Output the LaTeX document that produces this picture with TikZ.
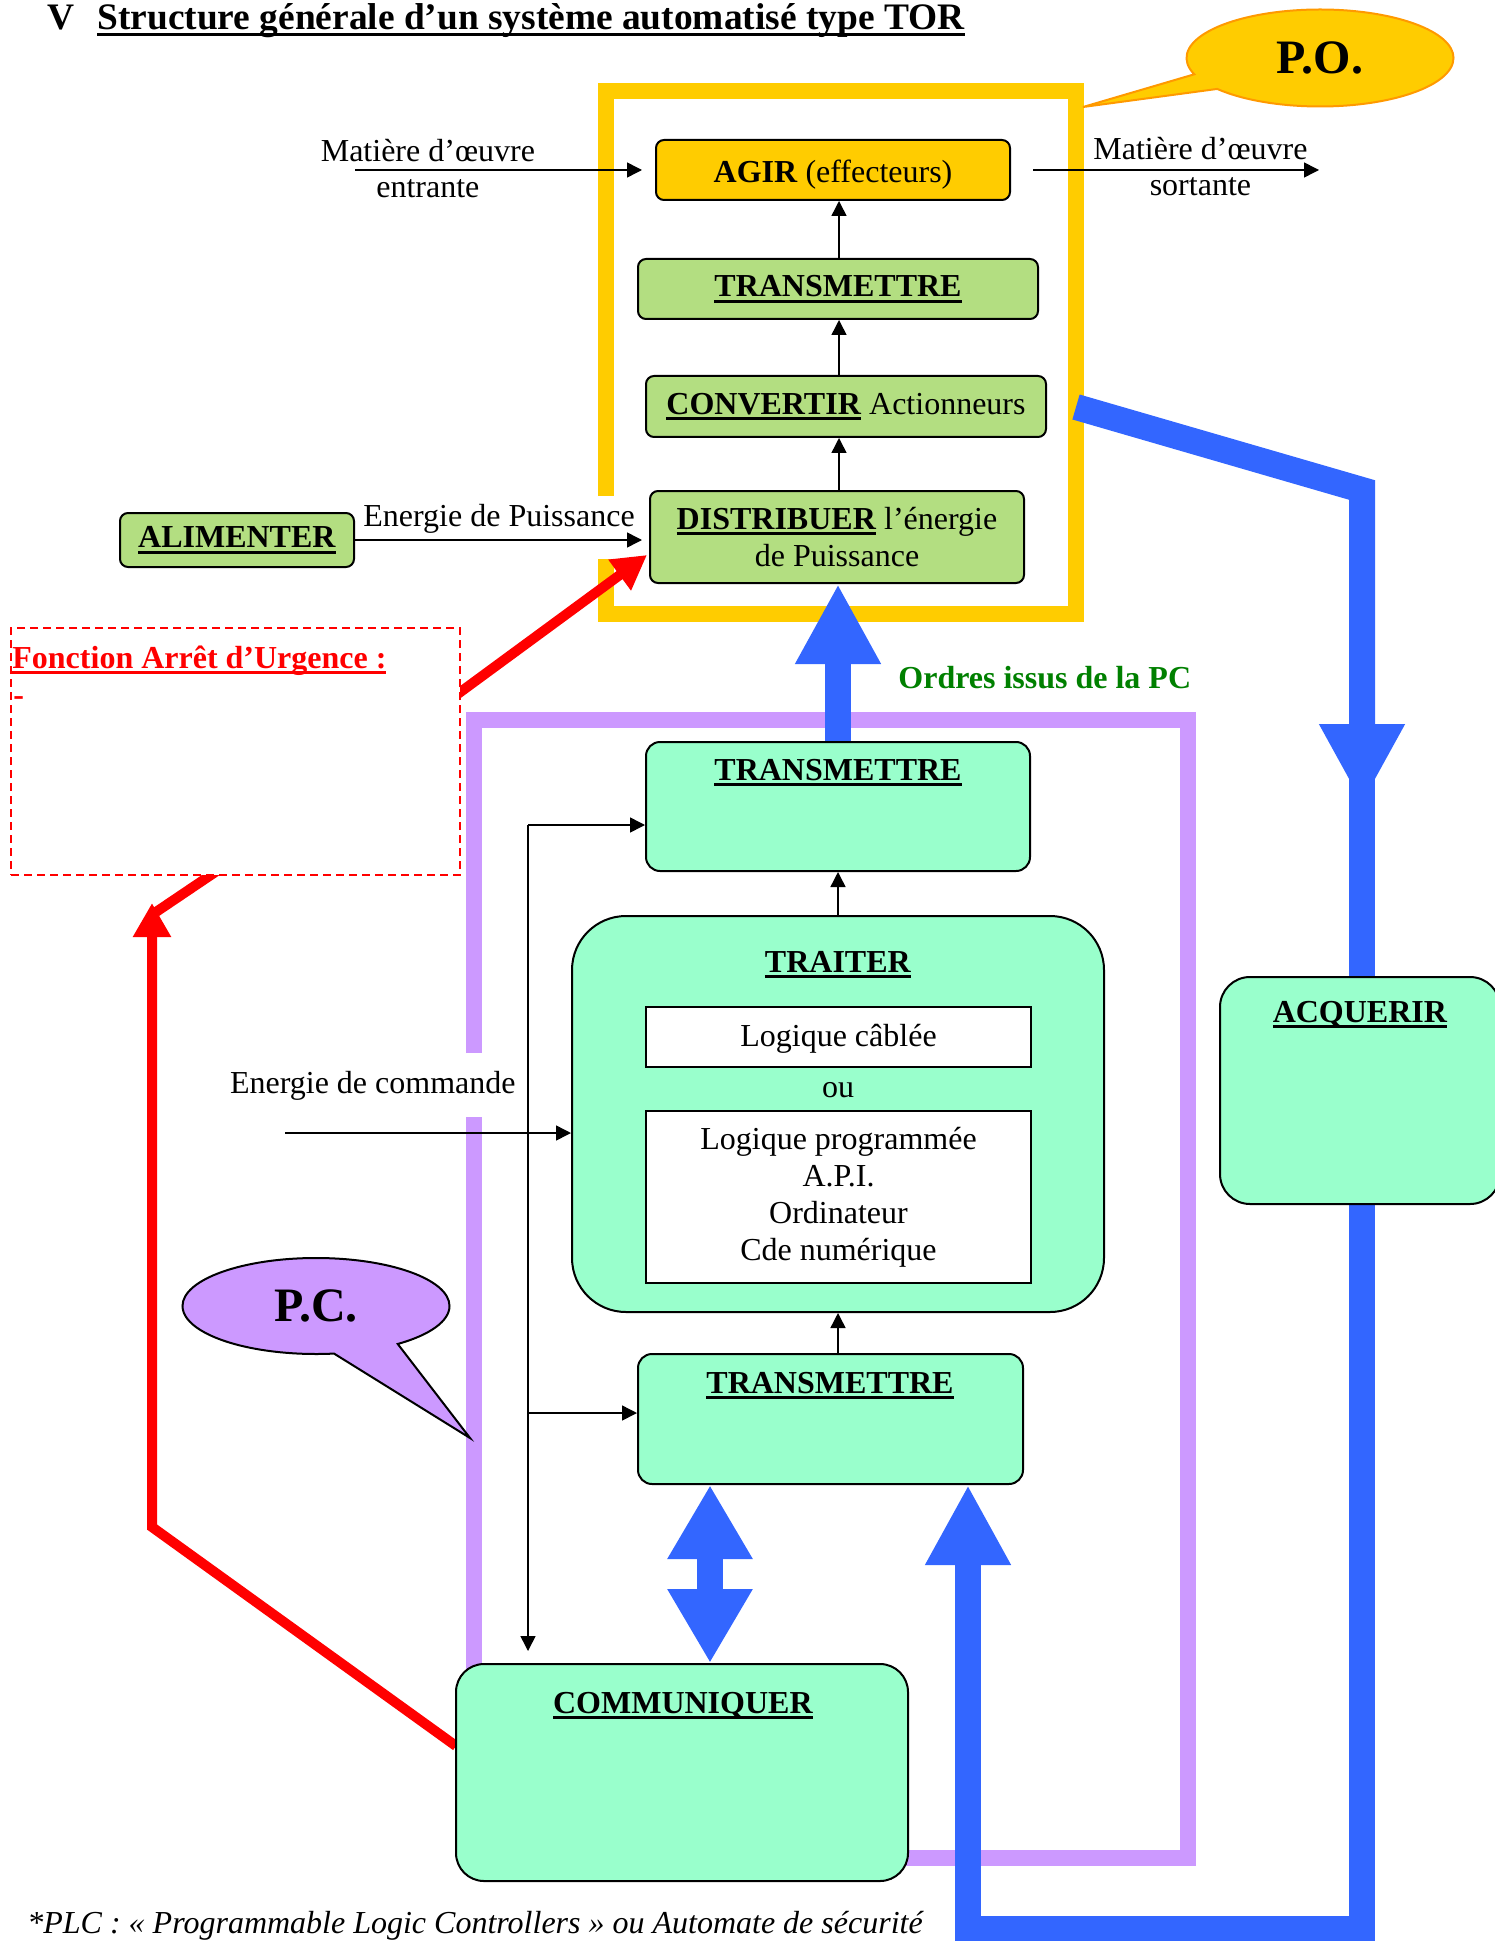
\documentclass[tikz,border=0pt]{standalone}
\usepackage{fontspec}
\setmainfont{Liberation Serif}
\usetikzlibrary{shapes.geometric, shapes.callouts, arrows.meta, positioning, calc, backgrounds}

\definecolor{jaunePO}{HTML}{FFCC00}
\definecolor{orangePO}{HTML}{FF9900}
\definecolor{vertPO}{HTML}{B3DE81}
\definecolor{mentePC}{HTML}{99FFCC}
\definecolor{violetPC}{HTML}{CC99FF}
\definecolor{bleuflux}{HTML}{3366FF}
\definecolor{vertordre}{HTML}{008000}

\newcommand{\souligne}[1]{\setbox0=\hbox{#1}\rlap{\copy0}\rule[-3pt]{\wd0}{1.5pt}}

\begin{document}
\begin{tikzpicture}[x=0.5pt, y=-0.5pt,
    every node/.style={font=\fontsize{16}{18.5}\selectfont},
    boitePO/.style={rectangle, draw, line width=1pt, rounded corners=4pt, fill=vertPO, inner sep=0pt, align=center},
    boitePC/.style={rectangle, draw, line width=1pt, fill=mentePC, inner sep=0pt},
    boiteblanche/.style={rectangle, draw, line width=1pt, fill=white, inner sep=0pt, align=center},
    titre/.style={anchor=base, inner sep=0pt},
    fleche/.style={-{Triangle[length=7.5pt, width=7.5pt]}, line width=0.75pt},
    tube/.style={draw=bleuflux, line width=13pt, -{Triangle[length=40pt, width=40pt]}},
    trait rouge/.style={draw=red, line width=5pt},
    fleche rouge/.style={trait rouge, -{Triangle[length=17pt, width=18pt]}},
    cadre/.style={line width=8pt}
]
    \useasboundingbox (0,0) rectangle (1494,1941);

    % Titre
    \node[anchor=base west, inner sep=0pt, font=\fontsize{18.7}{22}\selectfont] (num) at (47,30) {\textbf{V}};
    \node[anchor=base west, inner sep=0pt, font=\fontsize{18.7}{22}\selectfont] (titre) at (97,30) {\souligne{\textbf{Structure générale d’un système automatisé type TOR}}};

    % Partie operative
    \node[boitePO, fill=jaunePO, minimum width=177pt, minimum height=30pt, text height=16pt, text depth=3.5pt] (agir) at (833,170) {\textbf{AGIR} (effecteurs)};
    \node[boitePO, minimum width=200pt, minimum height=30pt] (transPO) at (838,289) {\souligne{\textbf{TRANSMETTRE}}};
    \node[boitePO, minimum width=200pt, minimum height=30.5pt] (conv) at (846,406.5) {\souligne{\textbf{CONVERTIR}} Actionneurs};
    \node[boitePO, minimum width=187pt, minimum height=46pt] (distrib) at (837,537) {\souligne{\textbf{DISTRIBUER}} l’énergie\\de Puissance};
    \node[boitePO, minimum width=117pt, minimum height=27pt] (alim) at (237,540) {\souligne{\textbf{ALIMENTER}}};

    % Arret d'urgence
    \node[draw=red, dash pattern=on 4pt off 2.5pt, line width=0.7pt, fill=white, minimum width=224.5pt, minimum height=123.5pt, inner sep=0pt] (urgence) at (235.5,751.5) {};
    \node[anchor=base west, inner sep=0pt, text=red] (urgence-titre) at (12,668) {\souligne{\textbf{Fonction Arrêt d’Urgence :}}};
    \node[anchor=base west, inner sep=0pt, text=red] (urgence-tiret) at (13,705) {\textbf{-}};

    \node[anchor=base west, inner sep=0pt, text=vertordre] (ordres) at (898,688) {\textbf{Ordres issus de la PC}};

    % Partie commande
    \node[boitePC, rounded corners=7pt, minimum width=192pt, minimum height=64.5pt] (tpc) at (838,806.5) {};
    \node[titre] (tpc-titre) at (838,780) {\souligne{\textbf{TRANSMETTRE}}};
    \node[boitePC, rounded corners=27pt, minimum width=266pt, minimum height=198pt] (traiter) at (838,1114) {};
    \node[titre] (traiter-titre) at (838,972) {\souligne{\textbf{TRAITER}}};
    \node[boiteblanche, minimum width=192.5pt, minimum height=30pt, text height=13pt, text depth=3.5pt] (cablee) at (838.5,1037) {Logique câblée};
    \node[titre] (ou) at (838,1097) {ou};
    \node[boiteblanche, minimum width=192.5pt, minimum height=86pt] (prog) at (838.5,1197) {Logique programmée\\A.P.I.\\Ordinateur\\Cde numérique};
    \node[boitePC, rounded corners=7pt, minimum width=192.5pt, minimum height=65pt] (tpcb) at (830.5,1419) {};
    \node[titre] (tpcb-titre) at (830,1393) {\souligne{\textbf{TRANSMETTRE}}};
    \node[boitePC, rounded corners=14pt, minimum width=226pt, minimum height=108.5pt] (comm) at (682,1772.5) {};
    \node[titre] (comm-titre) at (683,1713) {\souligne{\textbf{COMMUNIQUER}}};
    \node[boitePC, rounded corners=15pt, minimum width=140pt, minimum height=113.5pt] (acq) at (1360,1090.5) {};
    \node[titre] (acq-titre) at (1360,1022) {\souligne{\textbf{ACQUERIR}}};

    \node[anchor=base west, inner sep=0pt] (note) at (27,1933) {\textit{*PLC : « Programmable Logic Controllers » ou Automate de sécurité}};

    \begin{scope}[on background layer]
        % cadres P.O. et P.C.
        \draw[cadre, jaunePO] (606,496) -- (606,91) -- (1076,91) -- (1076,614) -- (606,614) -- (606,559);
        \draw[cadre, violetPC] (474,1053) -- (474,720) -- (1188,720) -- (1188,1858) -- (474,1858) -- (474,1117);

        % flux bleus
        \coordinate (po-sortie) at (1076,407);
        \coordinate (coude) at (1362,490);
        \coordinate (fleche-acq) at (1362,804);
        \coordinate (reprise) at (1362,770);
        \coordinate (bas) at (968,1929);
        \coordinate (dbl) at (710,0);
        \draw[tube] (tpc.north) -- (tpc.north |- distrib.south);
        \draw[tube, {Triangle[length=37pt, width=40pt]}-{Triangle[length=37pt, width=40pt]}] (comm.north -| dbl) -- (tpcb.south -| dbl);
        \draw[tube] (po-sortie) -- (coude) -- (fleche-acq);
        \draw[tube, -] (reprise) -- (reprise |- acq.north);
        \draw[tube] (coude |- acq.south) -- (coude |- bas) -- (bas) -- (tpcb.south -| bas);

        % arret d'urgence
        \coordinate (r-urg) at (440,707);
        \coordinate (r-dist) at (647,555);
        \coordinate (r-comm) at (456,1746);
        \coordinate (r-coin) at (152,1527);
        \coordinate (r-pointe) at (152,903);
        \coordinate (r-depart) at (156,912);
        \coordinate (r-haut) at (245,852);
        \draw[fleche rouge] (r-urg) -- (r-dist);
        \draw[fleche rouge] (r-comm) -- (r-coin) -- (r-pointe);
        \draw[trait rouge] (r-depart) -- (r-haut);
    \end{scope}

    % Liaisons P.O.
    \coordinate (axe) at (839,0);
    \draw[fleche] (distrib.north -| axe) -- (conv.south -| axe);
    \draw[fleche] (conv.north -| axe) -- (transPO.south -| axe);
    \draw[fleche] (transPO.north -| axe) -- (agir.south -| axe);

    \coordinate (entree) at (355,170);
    \draw[fleche, shorten >=6.5pt] (entree) -- (agir.west)
        node[pos=.243, anchor=base, yshift=4pt, inner sep=0pt] (entree-haut) {Matière d’œuvre}
        node[pos=.243, anchor=base, yshift=-14pt, inner sep=0pt] (entree-bas) {entrante};
    \coordinate (sortie) at (1319,170);
    \draw[fleche, shorten <=11pt] (agir.east) -- (sortie)
        node[pos=.615, anchor=base, yshift=5pt, inner sep=0pt] (sortie-haut) {Matière d’œuvre}
        node[pos=.615, anchor=base, yshift=-13pt, inner sep=0pt] (sortie-bas) {sortante};
    \draw[fleche, shorten >=3.5pt] (alim.east) -- (alim.east -| distrib.west)
        node[pos=.49, anchor=base, yshift=7pt, inner sep=0pt] (puiss) {Energie de Puissance};

    % Liaisons P.C.
    \coordinate (cmd) at (285,1133);
    \draw[fleche] (cmd) -- (cmd -| traiter.west)
        node[pos=.307, anchor=base, yshift=20pt, inner sep=0pt] (cmd-label) {Energie de commande};
    \coordinate (bus) at (528,825);
    \coordinate (bus-b) at (528,1413);
    \draw[fleche] (bus) -- (bus -| tpc.west);
    \draw[fleche, shorten >=6pt] (bus) -- (bus |- comm.north);
    \draw[fleche] (bus-b) -- (bus-b -| tpcb.west);
    \draw[fleche] (traiter.north) -- (tpc.south);
    \draw[fleche] (traiter.south |- tpcb.north) -- (traiter.south);

    % Bulles
    \node[ellipse callout, draw=orangePO, fill=jaunePO, line width=1pt, minimum width=133.5pt, minimum height=48.5pt, callout absolute pointer={(1083,107)}, callout pointer arc=20, font=\fontsize{24}{28}\selectfont] (po) at (1320,58) {\textbf{P.O.}};
    \node[ellipse callout, draw, fill=violetPC, line width=1pt, minimum width=133.5pt, minimum height=48pt, callout absolute pointer={(470,1438)}, callout pointer arc=30, font=\fontsize{24}{28}\selectfont] (pc) at (316,1306) {\textbf{P.C.}};
\end{tikzpicture}
\end{document}
